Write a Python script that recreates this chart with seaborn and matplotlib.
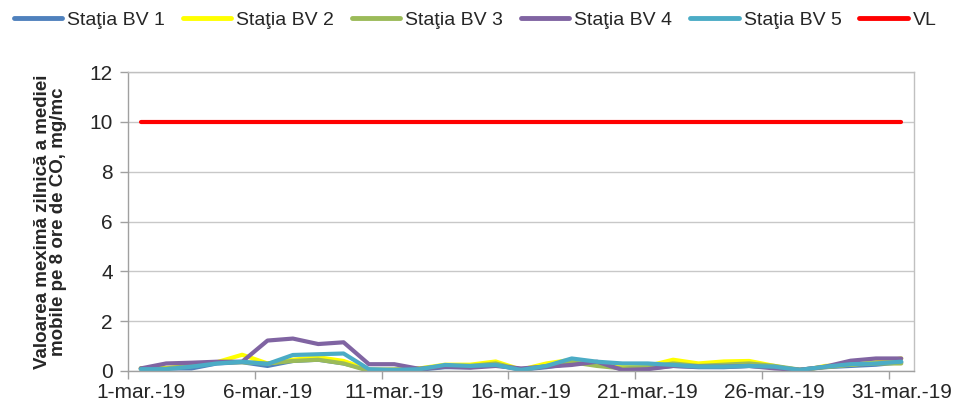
import numpy as np
import pandas as pd
import seaborn as sns
import matplotlib.pyplot as plt

days = [f"{d}-mar.-19" for d in range(1, 32)]

bv1 = [0.10, 0.10, 0.10, 0.30, 0.35, 0.20, 0.40, 0.45, 0.30, 0.05, 0.05, 0.05, 0.15, 0.15, 0.25, 0.05,
       0.15, 0.30, 0.35, 0.10, 0.10, 0.20, 0.15, 0.15, 0.20, 0.15, 0.05, 0.15, 0.20, 0.25, 0.35]
bv2 = [0.10, 0.12, 0.20, 0.35, 0.65, 0.30, 0.45, 0.55, 0.40, 0.05, 0.05, 0.10, 0.25, 0.25, 0.38, 0.05,
       0.30, 0.45, 0.35, 0.20, 0.20, 0.45, 0.30, 0.38, 0.40, 0.20, 0.00, 0.20, 0.25, 0.35, 0.50]
bv3 = [0.10, 0.10, 0.20, 0.35, 0.35, 0.30, 0.40, 0.45, 0.30, 0.00, 0.05, 0.10, 0.20, 0.20, 0.30, 0.05,
       0.20, 0.35, 0.20, 0.10, 0.15, 0.30, 0.20, 0.25, 0.30, 0.20, 0.05, 0.15, 0.25, 0.30, 0.30]
bv4 = [0.10, 0.30, 0.33, 0.37, 0.37, 1.22, 1.30, 1.08, 1.15, 0.27, 0.27, 0.08, 0.17, 0.13, 0.20, 0.10,
       0.17, 0.24, 0.37, 0.04, 0.07, 0.20, 0.17, 0.17, 0.20, 0.10, 0.04, 0.17, 0.41, 0.50, 0.50]
bv5 = [0.07, 0.07, 0.17, 0.30, 0.37, 0.28, 0.64, 0.67, 0.70, 0.07, 0.04, 0.07, 0.24, 0.20, 0.24, 0.04,
       0.20, 0.50, 0.37, 0.30, 0.30, 0.24, 0.17, 0.17, 0.20, 0.17, 0.04, 0.17, 0.27, 0.30, 0.37]
vl = [10] * 31

names = ["Staţia BV 1", "Staţia BV 2", "Staţia BV 3", "Staţia BV 4", "Staţia BV 5", "VL"]
colors = ["#4F81BD", "#FFFF00", "#9BBB59", "#8064A2", "#4BACC6", "#FF0000"]

rows = []
for name, vals in zip(names, [bv1, bv2, bv3, bv4, bv5, vl]):
    for i, v in enumerate(vals):
        rows.append({"zi": i, "valoare": v, "statie": name})
df = pd.DataFrame(rows)

sns.set_style("white")
plt.rcParams["font.family"] = ["Liberation Sans", "DejaVu Sans"]

fig = plt.figure(figsize=(9.56, 4.01), dpi=100)
ax = fig.add_axes([0.134, 0.075, 0.822, 0.745])

sns.lineplot(data=df, x="zi", y="valoare", hue="statie", hue_order=names,
             palette=dict(zip(names, colors)), linewidth=3, ax=ax, legend=False)

ax.set_xlim(-0.5, 30.5)
ax.set_ylim(0, 12)
ax.set_yticks(range(0, 13, 2))
ax.set_xticks(range(0, 31, 5))
ax.set_xticklabels(days[::5])
ax.set_xticks(np.arange(-0.5, 30, 5), minor=True)
ax.tick_params(axis="x", which="major", length=0, labelsize=15, pad=9)
ax.tick_params(axis="x", which="minor", length=6, color="#A0A0A0", width=1, direction="out", bottom=True)
ax.tick_params(axis="y", length=6, color="#A0A0A0", width=1, direction="out", left=True,
               labelsize=15, pad=5)
ax.grid(axis="y", color="#C8C8C8", linewidth=1)
for s in ax.spines.values():
    s.set_color("#C0C0C0")
    s.set_linewidth(1)
ax.spines["left"].set_color("#A0A0A0")
ax.spines["bottom"].set_color("#A0A0A0")
ax.set_xlabel("")
ax.set_ylabel("Valoarea meximă zilnică a mediei\nmobile pe 8 ore de CO, mg/mc",
              fontsize=13.5, fontweight="bold", labelpad=16, linespacing=0.95)

handles = [plt.Line2D([], [], color=c, linewidth=3.5) for c in colors]
fig.legend(handles, names, loc="center", bbox_to_anchor=(0.497, 0.95), ncol=6,
           frameon=False, fontsize=14, handlelength=2.5, handletextpad=0.26,
           columnspacing=0.9)

fig.savefig("out.png", dpi=100)
